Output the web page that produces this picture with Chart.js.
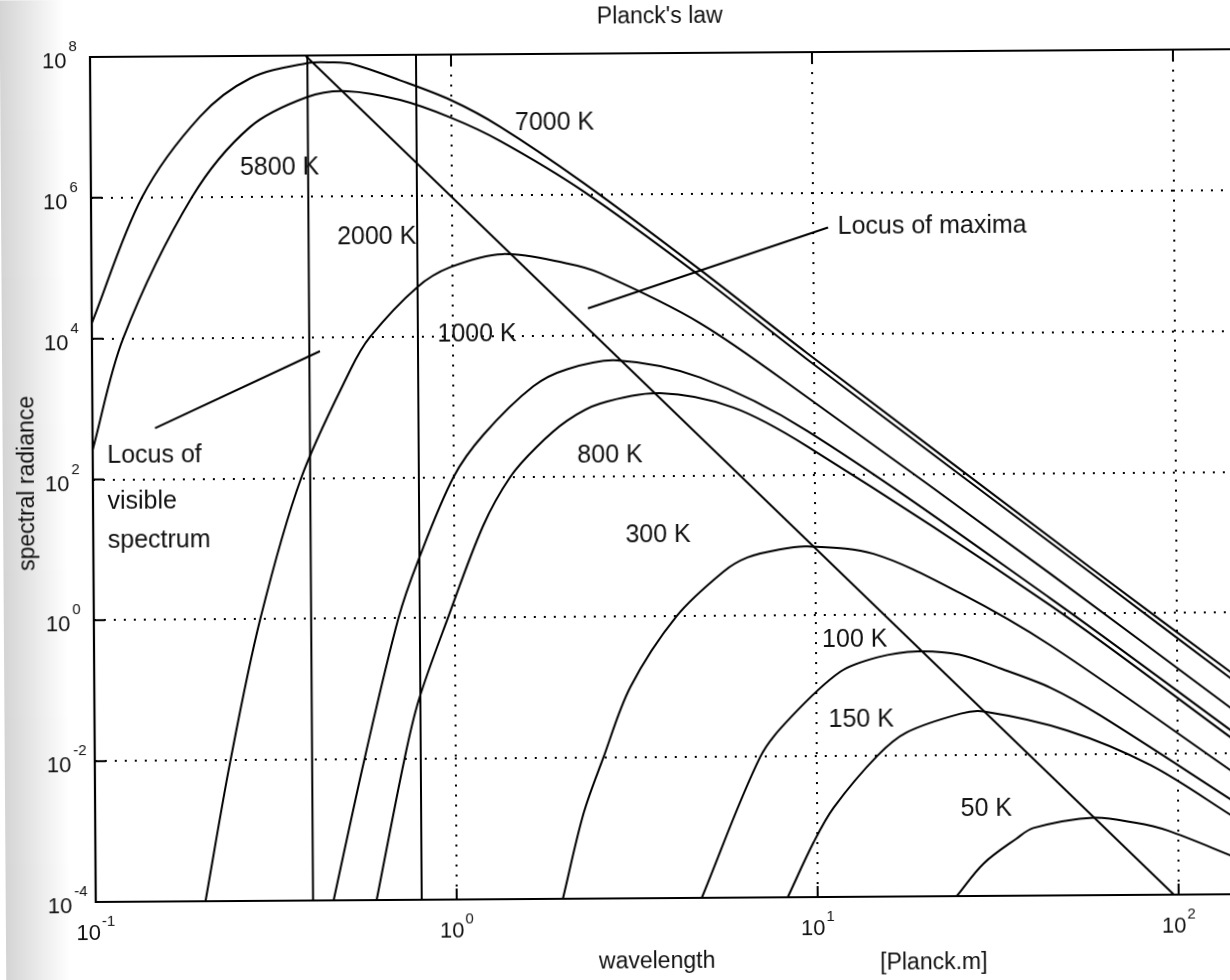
<!DOCTYPE html>
<html>
<head>
<meta charset="utf-8">
<script src="https://cdn.jsdelivr.net/npm/chart.js@4.4.0/dist/chart.umd.min.js"></script>
<style>
  html, body { margin: 0; padding: 0; background: #fff; overflow: hidden; }
  /* the scanned figure is tilted slightly, so the whole canvas is too */
  #wrap { width: 1250px; height: 980px; transform: rotate(-0.39deg); transform-origin: 90px 57px; }
</style>
</head>
<body>
<div id="wrap"><canvas id="myChart" width="1250" height="980"></canvas></div>
<script>
// wavelength [Planck.m] and spectral radiance
const wl7000  = [0.1, 0.1387, 0.2009, 0.2773, 0.398, 0.468, 0.537, 0.721, 1.0, 1.365, 2.307, 4.853, 9.55, 57.8, 144.5];
const rad7000 = [1.66e4, 1.02e6, 1.38e7, 4.79e7, 7.76e7, 7.94e7, 7.41e7, 4.37e7, 2.24e7, 9.33e6, 1.48e6, 8.32e4, 5.37e3, 4.47, 0.129];

const wl5800  = [0.1, 0.1222, 0.1905, 0.2767, 0.399, 0.514, 0.721, 1.0, 1.361, 2.307, 4.853, 9.55, 57.8, 144.5];
const rad5800 = [263, 1.02e4, 1.0e6, 9.77e6, 2.57e7, 3.09e7, 2.29e7, 1.26e7, 5.89e6, 1.12e6, 6.76e4, 4.37e3, 3.80, 0.105];

const wl2000  = [0.2014, 0.2377, 0.2891, 0.3776, 0.519, 0.590, 0.798, 0.986, 1.380, 2.080, 2.564, 4.842, 9.55, 44.67, 144.5];
const rad2000 = [1e-4, 0.01, 1, 100, 3.39e3, 1e4, 5.01e4, 9.55e4, 1.45e5, 1.05e5, 7.59e4, 1.45e4, 1.26e3, 3.72, 0.0398];

const wl1000  = [0.456, 0.5585, 0.698, 0.794, 0.998, 1.211, 1.667, 2.070, 2.851, 4.831, 9.55, 44.67, 144.5];
const rad1000 = [1e-4, 0.01, 1, 6.61, 100, 398, 1.91e3, 3.31e3, 4.37e3, 2.45e3, 417, 1.66, 0.0191];

const wl800   = [0.600, 0.721, 0.791, 0.957, 1.202, 1.435, 1.698, 2.065, 2.553, 3.741, 5.957, 9.55, 44.67, 144.5];
const rad800  = [1e-4, 0.01, 0.0676, 1, 20.0, 100, 263, 617, 1.07e3, 1.48e3, 912, 251, 1.32, 0.0151];

const wl300   = [1.968, 2.254, 2.564, 3.055, 4.111, 5.559, 6.486, 7.94, 9.506, 14.49, 25.18, 44.67, 144.5];
const rad300  = [1e-4, 1.62e-3, 0.01, 0.1, 1, 4.27, 6.76, 8.7, 9.55, 7.41, 2.0, 0.355, 5.13e-3];

const wl150   = [4.775, 6.982, 8.472, 11.67, 14.8, 19.10, 24.95, 32.36, 44.6, 61.2, 144.5];
const rad150  = [1e-4, 0.01, 0.0355, 0.158, 0.251, 0.302, 0.269, 0.170, 0.0891, 0.0355, 2.0e-3];

const wl100   = [8.26, 9.772, 11.12, 14.72, 17.78, 25.06, 29.04, 49.55, 84.14, 144.5];
const rad100  = [1e-4, 6.03e-4, 1.86e-3, 0.01, 0.0214, 0.0389, 0.0417, 0.0219, 6.92e-3, 1.20e-3];

const wl50    = [24.27, 28.84, 35.6, 39.72, 58.34, 75.9, 93.54, 144.5];
const rad50   = [1e-4, 2.88e-4, 6.46e-4, 9.12e-4, 1.26e-3, 1.06e-3, 8.13e-4, 3.31e-4];

// straight lines: locus of maxima, visible band edges, label pointers
const locusWl  = [0.395, 97];
const locusRad = [1e8, 1e-4];
const visibleEdges = [0.4, 0.8];
const radRange = [1e-4, 1e8];
const ptrVisWl = [0.149, 0.428], ptrVisRad = [527, 6310];
const ptrMaxWl = [2.37, 11.0],   ptrMaxRad = [2.41e4, 3.22e5];

// text labels in the plot (left edge / baseline in data units)
const curveLabels = ['7000 K', '5800 K', '2000 K', '1000 K', '800 K', '300 K', '100 K', '150 K', '50 K',
                     'Locus of maxima', 'Locus of', 'visible', 'spectrum'];
const labelWl  = [1.50, 0.259, 0.480, 0.906, 2.20, 2.98, 10.4, 10.8, 25.0, 11.7, 0.1097, 0.1097, 0.1097];
const labelRad = [8.3e6, 2.04e6, 2.04e5, 8.3e3, 158, 11.4, 0.35, 0.0257, 1.38e-3, 2.63e5, 170, 38, 10.7];

const xTicks = [0.1, 1, 10, 100];
const xExp   = ['-1', '0', '1', '2'];
const yTicks = [1e-4, 1e-2, 1, 1e2, 1e4, 1e6, 1e8];
const yExp   = ['-4', '-2', '0', '2', '4', '6', '8'];

const FONT = '"Liberation Sans", Arial, Helvetica, sans-serif';

function series(xs, ys, smooth) {
    return {
        data: xs.map((v, i) => ({ x: v, y: ys[i] })),
        borderColor: '#000',
        borderWidth: 2,
        pointRadius: 0,
        fill: false,
        tension: smooth ? 0.33 : 0,
    };
}

let datasets = [
    series(wl7000, rad7000, true),
    series(wl5800, rad5800, true),
    series(wl2000, rad2000, true),
    series(wl1000, rad1000, true),
    series(wl800, rad800, true),
    series(wl300, rad300, true),
    series(wl150, rad150, true),
    series(wl100, rad100, true),
    series(wl50, rad50, true),
    series(locusWl, locusRad, false),
    series(ptrVisWl, ptrVisRad, false),
    series(ptrMaxWl, ptrMaxRad, false),
];
visibleEdges.forEach(w => datasets.push(series([w, w], radRange, false)));

const extras = {
    id: 'extras',
    beforeDraw(chart) {
        // grey stipple of the scan along the left margin
        const ctx = chart.ctx;
        const g = ctx.createLinearGradient(0, 0, 64, 0);
        g.addColorStop(0, 'rgba(0,0,0,0.17)');
        g.addColorStop(1, 'rgba(0,0,0,0)');
        ctx.save();
        ctx.fillStyle = g;
        ctx.fillRect(0, 0, 64, chart.height);
        ctx.restore();
    },
    afterDraw(chart) {
        const { ctx, chartArea: a, scales: { x, y } } = chart;
        ctx.save();
        ctx.strokeStyle = '#000';
        ctx.lineWidth = 2.2;
        ctx.beginPath();
        ctx.moveTo(a.right, a.top);
        ctx.lineTo(a.left, a.top);
        ctx.lineTo(a.left, a.bottom);
        ctx.lineTo(a.right, a.bottom);
        ctx.stroke();

        ctx.lineWidth = 2;
        ctx.beginPath();
        xTicks.forEach(v => {
            const px = x.getPixelForValue(v);
            ctx.moveTo(px, a.top); ctx.lineTo(px, a.top + 11);
            ctx.moveTo(px, a.bottom); ctx.lineTo(px, a.bottom - 11);
        });
        yTicks.forEach(v => {
            const py = y.getPixelForValue(v);
            ctx.moveTo(a.left, py); ctx.lineTo(a.left + 11, py);
        });
        ctx.stroke();

        ctx.fillStyle = '#111';
        ctx.textBaseline = 'alphabetic';

        // tick labels as 10 with a raised exponent
        xTicks.forEach((v, i) => {
            ctx.font = '22px ' + FONT;
            const wb = ctx.measureText('10').width;
            ctx.font = '15px ' + FONT;
            const we = ctx.measureText(xExp[i]).width;
            const left = x.getPixelForValue(v) - (wb + 1 + we) / 2;
            ctx.textAlign = 'left';
            ctx.font = '22px ' + FONT;
            ctx.fillText('10', left, 940);
            ctx.font = '15px ' + FONT;
            ctx.fillText(xExp[i], left + wb + 1, 926);
        });
        yTicks.forEach((v, i) => {
            const py = y.getPixelForValue(v);
            ctx.textAlign = 'left';
            ctx.font = '22px ' + FONT;
            const wb = ctx.measureText('10').width;
            ctx.fillText('10', 42, py + 11);
            ctx.font = '15px ' + FONT;
            ctx.fillText(yExp[i], 42 + wb + 2, py - 6);
        });

        // labels inside the plot
        ctx.font = '25px ' + FONT;
        ctx.textAlign = 'left';
        curveLabels.forEach((t, i) => {
            ctx.fillText(t, x.getPixelForValue(labelWl[i]), y.getPixelForValue(labelRad[i]));
        });

        // title and axis titles
        ctx.font = '23px ' + FONT;
        ctx.textAlign = 'center';
        ctx.fillText("Planck's law", 660, 27);
        ctx.fillText('wavelength', 651, 972);
        ctx.textAlign = 'left';
        ctx.fillText('[Planck.m]', 874, 975);

        ctx.translate(25, 483);
        ctx.rotate(-Math.PI / 2);
        ctx.textAlign = 'center';
        ctx.textBaseline = 'middle';
        ctx.fillText('spectral radiance', 0, 0);
        ctx.restore();
    }
};

let ctx = document.getElementById('myChart').getContext('2d');
let chart = new Chart(ctx, {
    type: 'line',
    data: { datasets: datasets },
    options: {
        responsive: false,
        animation: false,
        layout: { padding: { left: 90, top: 57, right: 0, bottom: 78 } },
        plugins: {
            legend: { display: false },
            tooltip: { enabled: false },
        },
        scales: {
            x: {
                type: 'logarithmic',
                min: 0.1,
                max: 163.5,
                bounds: 'data',
                afterBuildTicks: s => { s.ticks = xTicks.map(v => ({ value: v })); },
                ticks: { display: false },
                grid: { color: '#000', lineWidth: 2, drawTicks: false },
                border: { display: false, dash: [2, 8] },
            },
            y: {
                type: 'logarithmic',
                min: 1e-4,
                max: 1e8,
                bounds: 'data',
                afterBuildTicks: s => { s.ticks = yTicks.map(v => ({ value: v })); },
                ticks: { display: false },
                grid: { color: '#000', lineWidth: 2, drawTicks: false },
                border: { display: false, dash: [2, 8] },
            }
        }
    },
    plugins: [extras]
});
</script>
</body>
</html>
